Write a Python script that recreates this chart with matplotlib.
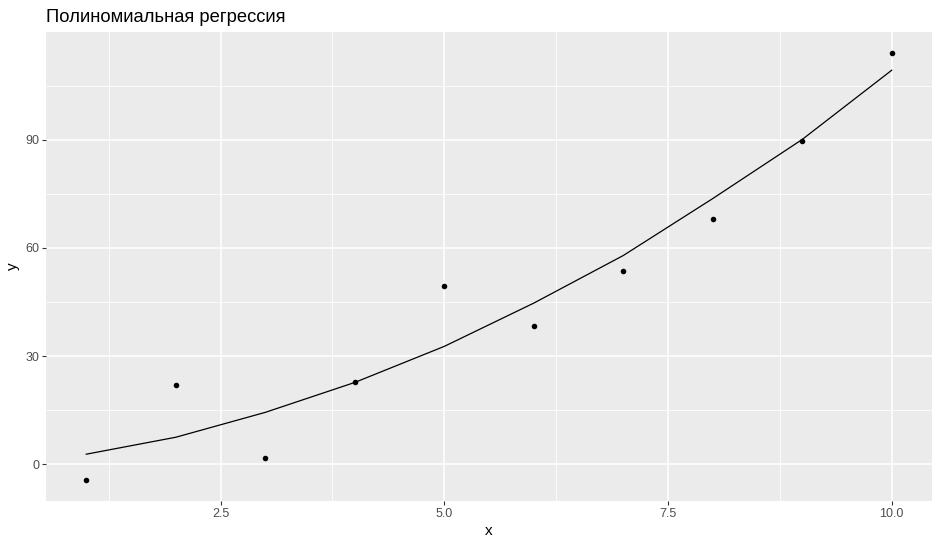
import matplotlib
matplotlib.use("Agg")
import matplotlib.pyplot as plt
from matplotlib.ticker import MultipleLocator

plt.rcParams['font.family'] = ['Liberation Sans', 'DejaVu Sans']

x = [1, 2, 3, 4, 5, 6, 7, 8, 9, 10]
y = [-4.4, 21.9, 1.7, 22.8, 49.4, 38.3, 53.6, 68.1, 89.8, 114.2]
fit = [2.8, 7.5, 14.4, 22.7, 32.7, 44.7, 57.9, 73.7, 90.1, 109.3]
xticks = [2.5, 5.0, 7.5, 10.0]
yticks = [0, 30, 60, 90]
title = "Полиномиальная регрессия"

fig = plt.figure(figsize=(9.4, 5.46), dpi=100)
ax = fig.add_axes([46/940, 1-500.7/546, (932-46)/940, (500.7-32)/546])
ax.set_facecolor('#EBEBEB')
for s in ax.spines.values():
    s.set_visible(False)

ax.set_xlim(0.55, 10.45)
ax.set_ylim(-10.1, 119.9)
ax.set_xticks(xticks)
ax.set_xticklabels([f"{t:.1f}" for t in xticks])
ax.set_yticks(yticks)
ax.set_yticklabels([str(t) for t in yticks])
ax.xaxis.set_minor_locator(MultipleLocator(1.25))
ax.yaxis.set_minor_locator(MultipleLocator(15))
ax.grid(True, which='major', color='white', linewidth=1.1)
ax.grid(True, which='minor', color='white', linewidth=0.55)
ax.set_axisbelow(True)
ax.tick_params(which='major', length=3, width=0.8, color='#333333',
               labelcolor='#4D4D4D', labelsize=9, pad=2)
ax.tick_params(which='minor', length=0)

ax.plot(x, fit, color='black', linewidth=0.9, zorder=3)
ax.scatter(x, y, s=16, color='black', zorder=4, linewidths=0)

ax.set_xlabel('x', fontsize=11, labelpad=3)
ax.set_ylabel('y', fontsize=11, labelpad=4)
fig.text(46/940, 1-17/546, title, fontsize=13.2, va='center', ha='left')

fig.savefig('out.png', dpi=100, facecolor='white')
